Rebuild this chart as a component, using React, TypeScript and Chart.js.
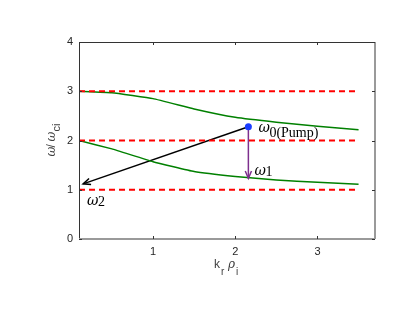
import React, { useEffect, useRef } from "react";
import { Chart, registerables } from "chart.js";

Chart.register(...registerables);

const xTicks = [1, 2, 3];
const yTicks = [0, 1, 2, 3, 4];
const harmonicLevels = [1, 2, 3];
const harmonicX = [0.1, 3.5];
const branchX = [0.1, 0.5, 1.0, 1.5, 2.0, 2.5, 3.0, 3.5];
const upperBranch = [3.0, 2.97, 2.85, 2.64, 2.47, 2.37, 2.29, 2.22];
const lowerBranch = [2.0, 1.83, 1.57, 1.37, 1.27, 1.2, 1.15, 1.11];
const pump = { x: 2.16, y: 2.28 };
const omega1End = { x: 2.16, y: 1.23 };
const omega2End = { x: 0.15, y: 1.12 };

const RED = "#ff0000";
const GREEN = "#008000";
const PURPLE = "#7e2f8e";

const arrowHead = (ctx: CanvasRenderingContext2D, x0: number, y0: number, x1: number, y1: number, color: string) => {
  const ang = Math.atan2(y1 - y0, x1 - x0);
  const len = 8;
  const spread = 0.4;
  ctx.save();
  ctx.strokeStyle = color;
  ctx.lineWidth = 1.5;
  ctx.beginPath();
  ctx.moveTo(x1 - len * Math.cos(ang - spread), y1 - len * Math.sin(ang - spread));
  ctx.lineTo(x1, y1);
  ctx.lineTo(x1 - len * Math.cos(ang + spread), y1 - len * Math.sin(ang + spread));
  ctx.stroke();
  ctx.restore();
};

const decorPlugin = {
  id: "decor",
  afterDatasetsDraw(chart: any) {
    const { ctx, chartArea: a, scales } = chart;
    const xs = scales.x;
    const ys = scales.y;
    ctx.save();
    // frame
    ctx.strokeStyle = "#333333";
    ctx.lineWidth = 1;
    ctx.beginPath();
    ctx.moveTo(a.left + 0.5, a.bottom);
    ctx.lineTo(a.left + 0.5, a.top + 0.5);
    ctx.lineTo(a.right, a.top + 0.5);
    ctx.stroke();
    ctx.strokeStyle = "#9a9a9a";
    ctx.lineWidth = 2;
    ctx.beginPath();
    ctx.moveTo(a.left, a.bottom);
    ctx.lineTo(a.right, a.bottom);
    ctx.moveTo(a.right, a.bottom);
    ctx.lineTo(a.right, a.top);
    ctx.stroke();
    // inward ticks
    ctx.strokeStyle = "#333333";
    ctx.lineWidth = 1;
    ctx.beginPath();
    xTicks.forEach((t) => {
      const px = Math.round(xs.getPixelForValue(t)) + 0.5;
      ctx.moveTo(px, a.bottom);
      ctx.lineTo(px, a.bottom - 3);
      ctx.moveTo(px, a.top);
      ctx.lineTo(px, a.top + 3);
    });
    yTicks.forEach((t) => {
      const py = Math.round(ys.getPixelForValue(t)) + 0.5;
      ctx.moveTo(a.left, py);
      ctx.lineTo(a.left + 3, py);
      ctx.moveTo(a.right, py);
      ctx.lineTo(a.right - 3, py);
    });
    ctx.stroke();

    // arrow heads
    const px = xs.getPixelForValue(pump.x);
    const py = ys.getPixelForValue(pump.y);
    arrowHead(ctx, px, py, xs.getPixelForValue(omega1End.x), ys.getPixelForValue(omega1End.y), PURPLE);
    arrowHead(ctx, px, py, xs.getPixelForValue(omega2End.x), ys.getPixelForValue(omega2End.y), "#000000");

    // pump point
    ctx.fillStyle = "#1a3cff";
    ctx.beginPath();
    ctx.arc(px, py, 3.5, 0, Math.PI * 2);
    ctx.fill();

    // labels
    ctx.fillStyle = "#000000";
    ctx.textBaseline = "alphabetic";
    ctx.textAlign = "left";
    ctx.font = "italic 14px 'DejaVu Serif'";
    ctx.fillText("ω", px + 10, py + 5);
    ctx.font = "14px 'Liberation Serif'";
    ctx.fillText("0(Pump)", px + 21, py + 10);

    const o1x = xs.getPixelForValue(omega1End.x);
    const o1y = ys.getPixelForValue(omega1End.y);
    ctx.font = "italic 14px 'DejaVu Serif'";
    ctx.fillText("ω", o1x + 6, o1y - 3);
    ctx.font = "14px 'Liberation Serif'";
    ctx.fillText("1", o1x + 17, o1y - 2);

    const o2x = xs.getPixelForValue(omega2End.x);
    const o2y = ys.getPixelForValue(omega2End.y);
    ctx.font = "italic 14px 'DejaVu Serif'";
    ctx.fillText("ω", o2x + 4, o2y + 21);
    ctx.font = "14px 'Liberation Serif'";
    ctx.fillText("2", o2x + 15, o2y + 22);

    // axis titles
    ctx.fillStyle = "#404040";
    const cx = (a.left + a.right) / 2;
    ctx.font = "12px 'Liberation Sans'";
    ctx.fillText("k", cx - 13, 268);
    ctx.font = "10px 'Liberation Sans'";
    ctx.fillText("r", cx - 6, 275);
    ctx.font = "italic 12px 'DejaVu Serif'";
    ctx.fillText("ρ", cx + 1, 268);
    ctx.font = "10px 'Liberation Sans'";
    ctx.fillText("i", cx + 9, 275);

    ctx.save();
    ctx.translate(55, (a.top + a.bottom) / 2);
    ctx.rotate(-Math.PI / 2);
    ctx.font = "italic 12px 'DejaVu Serif'";
    ctx.fillText("ω", -16, 0);
    ctx.font = "12px 'Liberation Sans'";
    ctx.fillText("/", -7, 0);
    ctx.font = "italic 12px 'DejaVu Serif'";
    ctx.fillText("ω", -1, 0);
    ctx.font = "11px 'Liberation Sans'";
    ctx.fillText("ci", 9, 5);
    ctx.restore();

    ctx.restore();
  },
};

export default function App() {
  const ref = useRef<HTMLCanvasElement>(null);
  useEffect(() => {
    if (!ref.current) return;
    const harmonicSets = harmonicLevels.map((lvl) => ({
      data: harmonicX.map((x) => ({ x, y: lvl })),
      borderColor: RED,
      borderWidth: 2,
      borderDash: [6, 4],
      pointRadius: 0,
      showLine: true,
      fill: false,
    }));
    const chart = new Chart(ref.current, {
      type: "scatter",
      data: {
        datasets: [
          ...harmonicSets,
          {
            data: branchX.map((x, i) => ({ x, y: upperBranch[i] })),
            borderColor: GREEN,
            borderWidth: 1.5,
            pointRadius: 0,
            showLine: true,
            tension: 0.1,
          },
          {
            data: branchX.map((x, i) => ({ x, y: lowerBranch[i] })),
            borderColor: GREEN,
            borderWidth: 1.5,
            pointRadius: 0,
            showLine: true,
            tension: 0.1,
          },
          {
            data: [pump, omega1End],
            borderColor: PURPLE,
            borderWidth: 1.5,
            pointRadius: 0,
            showLine: true,
          },
          {
            data: [pump, omega2End],
            borderColor: "#000000",
            borderWidth: 1.5,
            pointRadius: 0,
            showLine: true,
          },
        ] as any,
      },
      options: {
        animation: false,
        responsive: false,
        events: [],
        layout: { padding: { left: 0, right: 40, top: 42, bottom: 0 } },
        plugins: { legend: { display: false }, tooltip: { enabled: false } },
        scales: {
          x: {
            type: "linear",
            min: 0.1,
            max: 3.7,
            afterFit: (s: any) => {
              s.height = 82;
            },
            afterBuildTicks: (s: any) => {
              s.ticks = xTicks.map((v) => ({ value: v }));
            },
            grid: { display: false, drawTicks: false },
            border: { display: false },
            ticks: {
              padding: 6,
              color: "#262626",
              font: { family: "'Liberation Sans'", size: 11 },
              callback: (v: any) => String(v),
            },
          },
          y: {
            type: "linear",
            min: 0,
            max: 4,
            afterFit: (s: any) => {
              s.width = 79;
            },
            afterBuildTicks: (s: any) => {
              s.ticks = yTicks.map((v) => ({ value: v }));
            },
            grid: { display: false, drawTicks: false },
            border: { display: false },
            ticks: {
              padding: 6,
              color: "#262626",
              font: { family: "'Liberation Sans'", size: 11 },
              callback: (v: any) => String(v),
            },
          },
        },
      } as any,
      plugins: [decorPlugin],
    });
    return () => chart.destroy();
  }, []);
  return (
    <div style={{ position: "fixed", left: 0, top: 0, width: 415, height: 321, background: "#fff" }}>
      <canvas ref={ref} width={415} height={321} />
    </div>
  );
}
